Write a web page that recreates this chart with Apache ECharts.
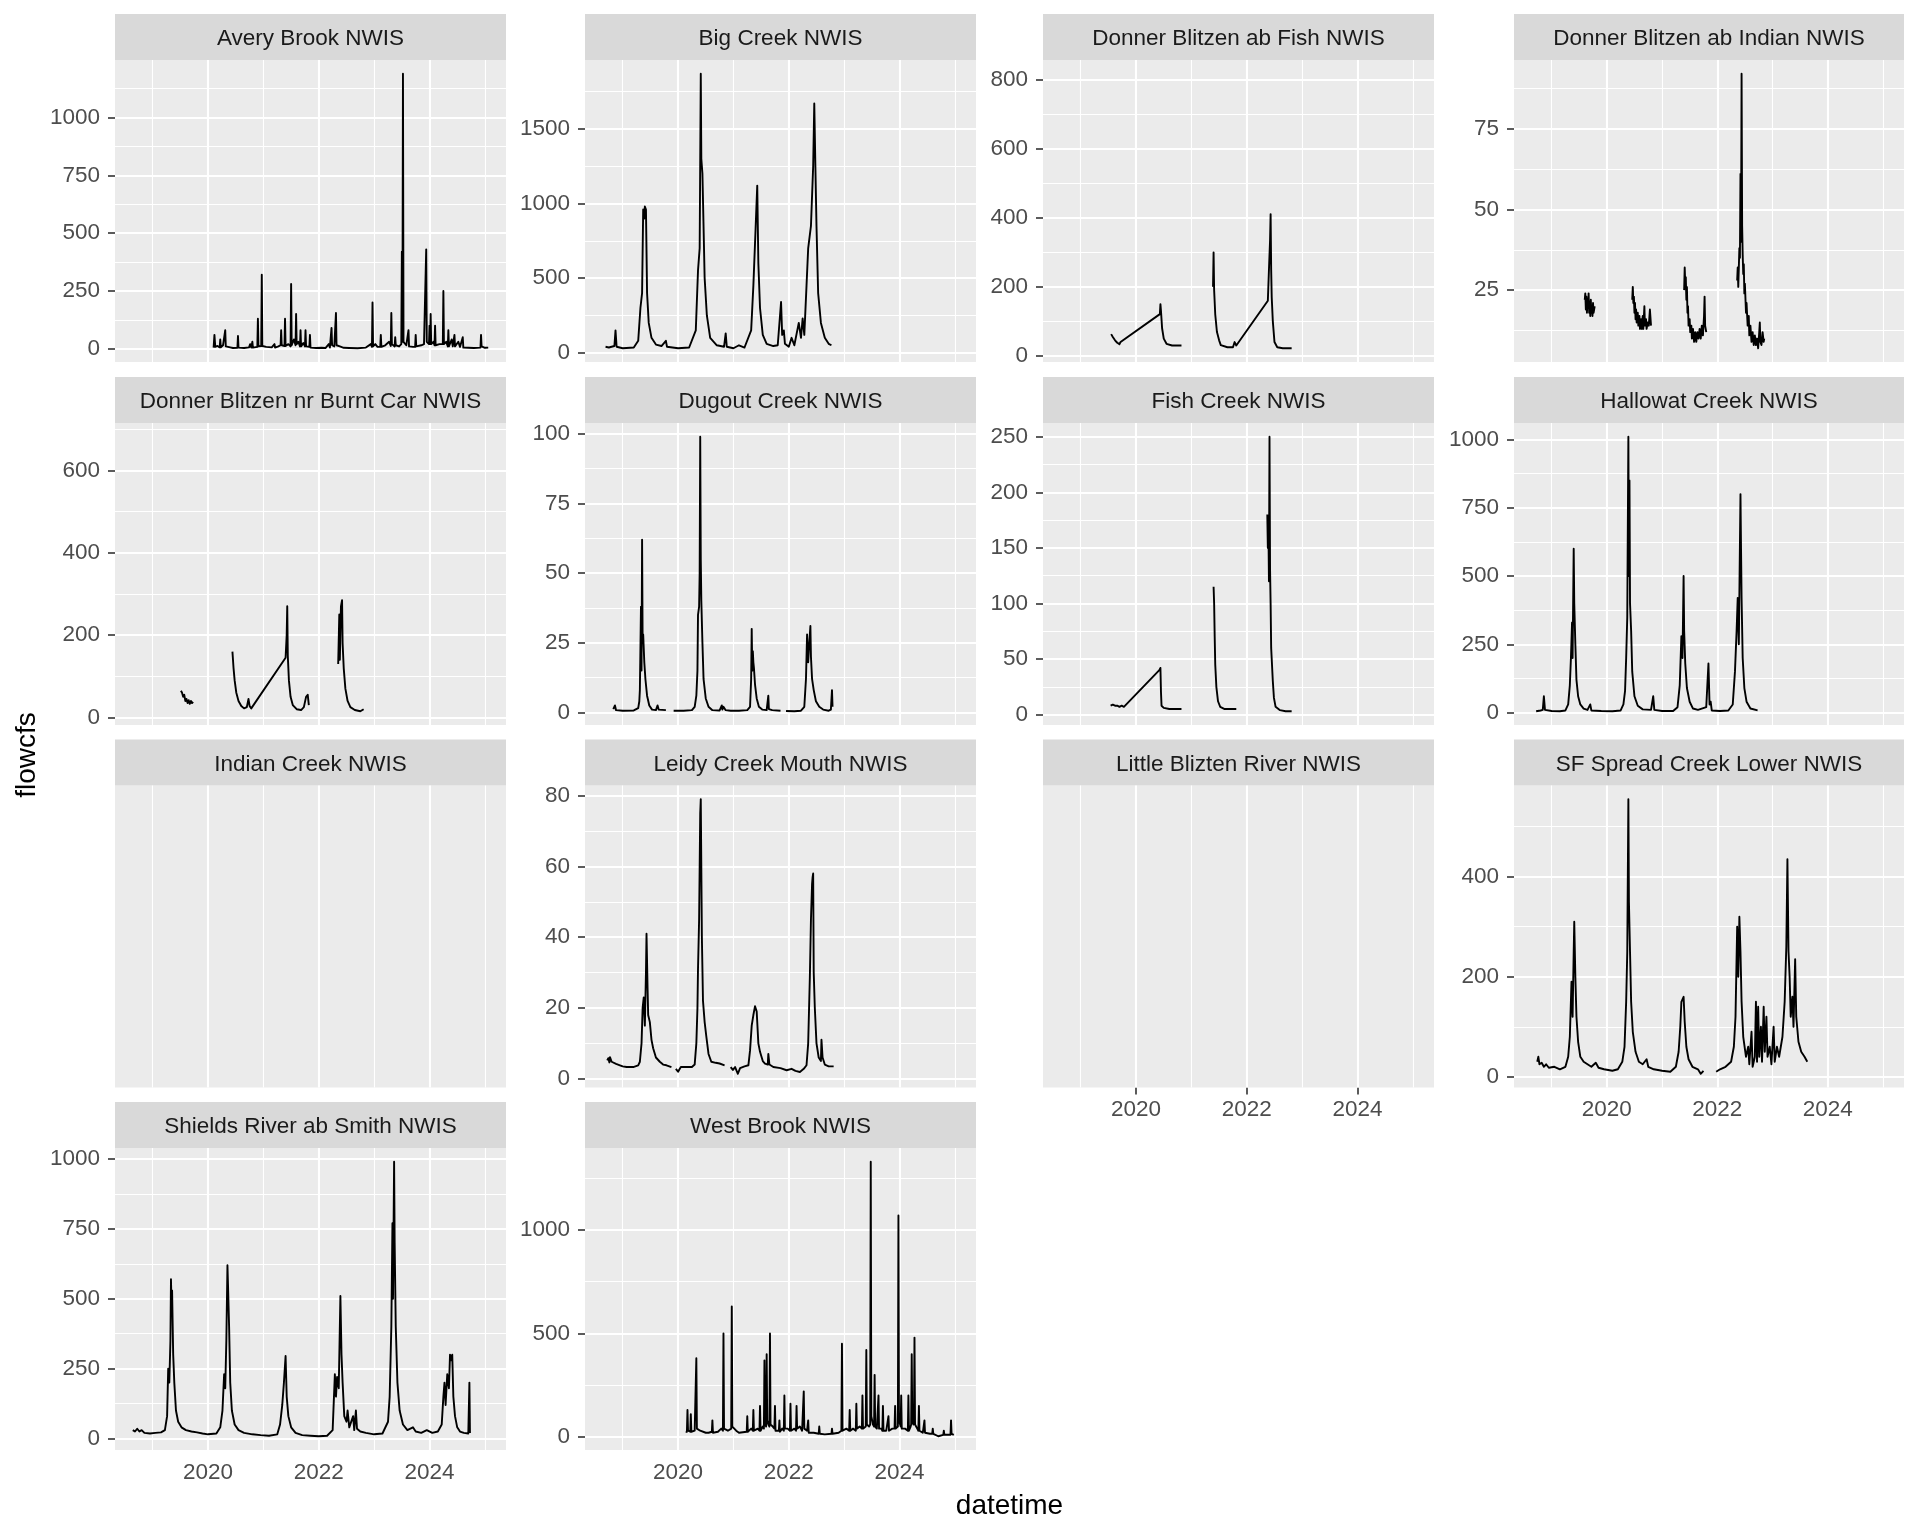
<!DOCTYPE html>
<html><head><meta charset="utf-8">
<script src="https://cdn.jsdelivr.net/npm/echarts@6/dist/echarts.min.js"></script>
<style>html,body{margin:0;padding:0;background:#fff}#chart{width:1920px;height:1536px}</style>
</head><body><div id="chart"></div>
<script>
// ---- Data (x = decimal year, y = flow cfs; null = gap in record) ----
const panelNames = ['Avery Brook NWIS','Big Creek NWIS','Donner Blitzen ab Fish NWIS','Donner Blitzen ab Indian NWIS',
  'Donner Blitzen nr Burnt Car NWIS','Dugout Creek NWIS','Fish Creek NWIS','Hallowat Creek NWIS',
  'Indian Creek NWIS','Leidy Creek Mouth NWIS','Little Blizten River NWIS','SF Spread Creek Lower NWIS',
  'Shields River ab Smith NWIS','West Brook NWIS'];

const averyBrook = [[2020.10,5],[2020.115,60],[2020.13,8],[2020.17,12],[2020.21,6],[2020.22,40],[2020.23,6],[2020.27,15],[2020.30,8],[2020.31,80],[2020.32,10],[2020.40,6],[2020.45,3],[2020.53,4],[2020.54,55],[2020.55,5],[2020.65,3],[2020.74,6],[2020.76,20],[2020.78,5],[2020.80,30],[2020.81,5],[2020.89,8],[2020.90,130],[2020.91,10],[2020.96,12],[2020.97,320],[2020.98,12],[2021.05,8],[2021.15,6],[2021.20,20],[2021.21,5],[2021.27,10],[2021.31,15],[2021.32,80],[2021.33,15],[2021.38,12],[2021.39,130],[2021.40,12],[2021.45,20],[2021.49,10],[2021.50,280],[2021.51,15],[2021.55,40],[2021.58,15],[2021.59,150],[2021.60,20],[2021.63,30],[2021.66,10],[2021.67,80],[2021.68,10],[2021.72,25],[2021.75,10],[2021.76,80],[2021.77,10],[2021.83,8],[2021.84,60],[2021.85,5],[2021.95,3],[2022.05,4],[2022.12,3],[2022.18,20],[2022.20,5],[2022.22,8],[2022.23,90],[2022.24,15],[2022.28,10],[2022.30,15],[2022.31,155],[2022.32,15],[2022.38,10],[2022.45,4],[2022.55,3],[2022.70,2],[2022.85,5],[2022.94,20],[2022.96,8],[2022.97,200],[2022.98,10],[2023.02,20],[2023.06,8],[2023.11,8],[2023.12,60],[2023.13,8],[2023.20,15],[2023.27,30],[2023.30,12],[2023.31,155],[2023.32,20],[2023.37,10],[2023.38,50],[2023.39,15],[2023.45,10],[2023.49,20],[2023.50,420],[2023.51,30],[2023.52,1190],[2023.53,30],[2023.58,15],[2023.61,10],[2023.62,80],[2023.63,10],[2023.70,8],[2023.74,8],[2023.75,60],[2023.76,10],[2023.85,15],[2023.90,20],[2023.93,25],[2023.94,430],[2023.95,30],[2023.99,20],[2024.00,100],[2024.01,20],[2024.02,150],[2024.03,20],[2024.07,30],[2024.09,15],[2024.10,100],[2024.11,15],[2024.18,20],[2024.24,20],[2024.25,250],[2024.26,20],[2024.30,30],[2024.33,10],[2024.34,80],[2024.35,10],[2024.40,40],[2024.42,10],[2024.45,60],[2024.46,10],[2024.52,30],[2024.55,8],[2024.60,50],[2024.61,5],[2024.70,4],[2024.80,3],[2024.92,5],[2024.93,60],[2024.94,10],[2025.00,4],[2025.06,5]];

const bigCreek = [[2018.69,40],[2018.75,35],[2018.85,45],[2018.87,150],[2018.89,40],[2019.00,30],[2019.20,35],[2019.28,80],[2019.32,300],[2019.35,400],[2019.37,960],[2019.39,900],[2019.40,980],[2019.42,960],[2019.44,400],[2019.47,200],[2019.52,100],[2019.60,55],[2019.70,45],[2019.78,80],[2019.80,40],[2020.00,30],[2020.20,35],[2020.32,150],[2020.36,550],[2020.39,700],[2020.41,1870],[2020.42,1300],[2020.44,1200],[2020.46,850],[2020.48,500],[2020.52,250],[2020.58,100],[2020.70,50],[2020.83,40],[2020.86,130],[2020.88,40],[2021.00,30],[2021.10,50],[2021.20,35],[2021.32,150],[2021.36,450],[2021.40,830],[2021.43,1120],[2021.45,600],[2021.48,300],[2021.53,120],[2021.60,60],[2021.72,45],[2021.80,50],[2021.86,340],[2021.88,120],[2021.91,150],[2021.93,60],[2022.00,40],[2022.05,100],[2022.10,50],[2022.18,200],[2022.22,100],[2022.25,230],[2022.28,120],[2022.32,450],[2022.35,700],[2022.40,850],[2022.44,1250],[2022.46,1670],[2022.48,1250],[2022.50,850],[2022.53,400],[2022.58,200],[2022.65,100],[2022.72,60],[2022.77,50]];

const dbAbFish = [[2019.55,63],[2019.58,55],[2019.62,45],[2019.66,38],[2019.70,34],[2019.72,40],[2020.43,121],[2020.44,150],[2020.45,130],[2020.47,80],[2020.50,50],[2020.55,35],[2020.65,30],[2020.82,30],null,[2021.39,200],[2021.40,300],[2021.41,190],[2021.43,120],[2021.46,70],[2021.50,45],[2021.53,31],[2021.65,25],[2021.75,25],[2021.78,40],[2021.81,30],[2022.38,160],[2022.40,250],[2022.42,335],[2022.43,411],[2022.44,250],[2022.45,170],[2022.47,100],[2022.50,40],[2022.55,25],[2022.65,22],[2022.81,22]];

const dbAbIndian = [[2019.60,22],[2019.61,24],[2019.62,19],[2019.63,23],[2019.64,18],[2019.65,22],[2019.66,20],[2019.67,24],[2019.68,18],[2019.69,21],[2019.70,17],[2019.71,22],[2019.72,18],[2019.73,20],[2019.74,17],[2019.75,21],[2019.76,18],[2019.77,19],[2019.78,20],null,
 [2020.46,22],[2020.47,26],[2020.48,21],[2020.49,23],[2020.50,18],[2020.51,21],[2020.52,16],[2020.53,19],[2020.54,15],[2020.56,18],[2020.57,14],[2020.59,17],[2020.60,13],[2020.62,16],[2020.63,13],[2020.65,17],[2020.66,13],[2020.68,20],[2020.69,14],[2020.71,16],[2020.72,13],[2020.74,15],[2020.76,14],[2020.78,19],[2020.80,14],null,
 [2021.40,25],[2021.41,32],[2021.42,27],[2021.43,29],[2021.44,22],[2021.45,26],[2021.46,18],[2021.47,20],[2021.48,14],[2021.50,16],[2021.51,12],[2021.53,14],[2021.54,10],[2021.56,13],[2021.58,9],[2021.60,12],[2021.62,9],[2021.64,12],[2021.66,10],[2021.68,13],[2021.70,10],[2021.72,14],[2021.74,11],[2021.76,17],[2021.77,23],[2021.78,14],[2021.80,12],null,
 [2022.36,28],[2022.37,32],[2022.38,26],[2022.40,38],[2022.41,35],[2022.42,61],[2022.43,40],[2022.44,92],[2022.45,45],[2022.46,36],[2022.47,30],[2022.48,33],[2022.49,24],[2022.50,27],[2022.52,18],[2022.53,21],[2022.55,14],[2022.57,17],[2022.58,11],[2022.60,14],[2022.62,9],[2022.64,12],[2022.66,8],[2022.68,11],[2022.70,8],[2022.72,10],[2022.74,7],[2022.76,12],[2022.77,15],[2022.78,9],[2022.80,8],[2022.82,12],[2022.84,9],[2022.85,10]];

const dbBurntCar = [[2019.51,65],[2019.53,60],[2019.55,50],[2019.57,55],[2019.59,40],[2019.61,45],[2019.63,35],[2019.65,42],[2019.67,33],[2019.69,40],[2019.71,35],[2019.73,38],null,
 [2020.44,160],[2020.46,120],[2020.48,90],[2020.51,60],[2020.55,40],[2020.60,28],[2020.65,22],[2020.70,25],[2020.73,45],[2020.75,28],[2020.78,22],[2021.40,145],[2021.42,200],[2021.43,270],[2021.44,150],[2021.46,90],[2021.49,50],[2021.53,30],[2021.60,20],[2021.68,18],[2021.73,25],[2021.77,50],[2021.80,55],[2021.82,30],null,
 [2022.35,130],[2022.37,250],[2022.38,140],[2022.40,270],[2022.42,285],[2022.43,180],[2022.45,120],[2022.48,70],[2022.52,40],[2022.57,25],[2022.65,18],[2022.75,15],[2022.81,20]];

const dugoutCreek = [[2018.83,1.2],[2018.86,2.5],[2018.88,0.8],[2019.00,0.6],[2019.20,0.7],[2019.28,1.5],[2019.30,4],[2019.31,8],[2019.33,38],[2019.34,15],[2019.35,62],[2019.36,25],[2019.37,28],[2019.39,18],[2019.41,12],[2019.44,6],[2019.48,2.5],[2019.53,1],[2019.60,0.8],[2019.63,2.5],[2019.65,1],[2019.68,1.5],[2019.78,0.8],null,
 [2019.92,0.6],[2020.10,0.6],[2020.25,0.8],[2020.30,2],[2020.33,6],[2020.35,15],[2020.36,35],[2020.38,38],[2020.39,50],[2020.40,99],[2020.41,55],[2020.42,40],[2020.44,25],[2020.46,12],[2020.50,5],[2020.55,2],[2020.62,0.8],[2020.75,0.7],[2020.79,2.5],[2020.80,1],[2020.82,2],[2020.86,0.8],[2020.95,0.6],[2021.10,0.6],[2021.25,0.8],[2021.30,2],[2021.32,12],[2021.33,30],[2021.34,15],[2021.35,22],[2021.36,18],[2021.37,16],[2021.39,10],[2021.42,5],[2021.46,2],[2021.52,1],[2021.60,0.8],[2021.63,6],[2021.64,1.2],[2021.70,0.8],[2021.85,0.6],null,
 [2021.95,0.5],[2022.10,0.4],[2022.22,0.6],[2022.28,2],[2022.31,12],[2022.33,28],[2022.35,18],[2022.37,25],[2022.39,31],[2022.40,20],[2022.42,12],[2022.45,8],[2022.49,4],[2022.55,2],[2022.62,1],[2022.72,0.6],[2022.76,1],[2022.78,8],[2022.79,2]];

const fishCreek = [[2019.54,8],[2019.58,9],[2019.62,8],[2019.66,8],[2019.70,7],[2019.74,8],[2019.78,7],[2020.42,40],[2020.44,42],[2020.45,20],[2020.46,8],[2020.50,6],[2020.60,5],[2020.70,5],[2020.82,5],null,
 [2021.40,115],[2021.41,100],[2021.42,70],[2021.43,45],[2021.45,25],[2021.48,12],[2021.52,7],[2021.60,5],[2021.70,5],[2021.81,5],null,
 [2022.37,180],[2022.38,150],[2022.39,170],[2022.40,120],[2022.41,250],[2022.42,130],[2022.43,100],[2022.44,60],[2022.45,50],[2022.47,30],[2022.49,15],[2022.52,7],[2022.60,4],[2022.70,3],[2022.81,3]];

const hallowatCreek = [[2018.72,5],[2018.80,8],[2018.84,10],[2018.86,60],[2018.88,10],[2019.00,6],[2019.15,5],[2019.25,8],[2019.30,30],[2019.33,100],[2019.35,200],[2019.37,330],[2019.38,200],[2019.40,600],[2019.41,400],[2019.43,250],[2019.45,120],[2019.48,60],[2019.52,30],[2019.58,15],[2019.65,10],[2019.70,30],[2019.72,8],[2019.90,6],[2020.10,5],[2020.25,8],[2020.30,30],[2020.33,80],[2020.35,200],[2020.37,350],[2020.39,1010],[2020.40,500],[2020.41,850],[2020.42,400],[2020.44,300],[2020.46,150],[2020.50,60],[2020.56,25],[2020.65,12],[2020.80,10],[2020.84,60],[2020.86,10],[2021.00,6],[2021.20,6],[2021.28,20],[2021.32,100],[2021.35,280],[2021.37,200],[2021.39,500],[2021.40,300],[2021.42,180],[2021.45,90],[2021.50,40],[2021.56,15],[2021.65,10],[2021.80,20],[2021.84,180],[2021.86,30],[2021.88,40],[2021.90,8],[2022.05,6],[2022.20,8],[2022.28,30],[2022.32,150],[2022.35,300],[2022.37,420],[2022.39,250],[2022.42,800],[2022.43,600],[2022.44,420],[2022.46,200],[2022.49,90],[2022.53,40],[2022.60,15],[2022.73,8]];

const indianCreek = [];

const leidyCreek = [[2018.72,5.2],[2018.74,5.8],[2018.76,4.6],[2018.77,6.1],[2018.80,4.8],[2018.83,4.5],[2018.88,4.2],[2018.95,3.8],[2019.00,3.5],[2019.07,3.3],[2019.19,3.3],[2019.28,3.8],[2019.31,4.8],[2019.34,10],[2019.36,20],[2019.38,23],[2019.40,15],[2019.42,30],[2019.43,41],[2019.45,25],[2019.46,18],[2019.49,16],[2019.52,11],[2019.55,8.6],[2019.60,6],[2019.67,4.8],[2019.73,4],[2019.79,3.8],[2019.88,3.3],null,
 [2019.96,2.8],[2020.00,2.0],[2020.05,3.3],[2020.15,3.3],[2020.25,3.3],[2020.30,4],[2020.33,10],[2020.35,20],[2020.36,31],[2020.38,45],[2020.40,75],[2020.41,79],[2020.43,40],[2020.45,22],[2020.48,16],[2020.51,12],[2020.55,7],[2020.60,4.8],[2020.68,4.5],[2020.75,4.3],[2020.84,3.8],null,
 [2020.95,3.3],[2020.99,2.5],[2021.03,3.3],[2021.08,1.4],[2021.12,3],[2021.20,3.5],[2021.27,3.8],[2021.30,8],[2021.33,15],[2021.36,18],[2021.39,20.5],[2021.42,19],[2021.45,10],[2021.48,7.6],[2021.53,5],[2021.57,4.3],[2021.62,4],[2021.63,7],[2021.65,4],[2021.72,3.3],[2021.85,3],[2021.96,2.4],[2022.05,2.8],[2022.12,2.2],[2022.20,1.9],[2022.27,2.8],[2022.32,3.8],[2022.35,10],[2022.38,28.6],[2022.40,45],[2022.42,55],[2022.43,57],[2022.44,58],[2022.45,30],[2022.47,20],[2022.50,10],[2022.54,6],[2022.58,5],[2022.59,11],[2022.61,6],[2022.65,4],[2022.72,3.5],[2022.81,3.5]];

const littleBlizten = [];

const sfSpread = [[2018.74,30],[2018.76,40],[2018.78,25],[2018.82,28],[2018.86,20],[2018.90,25],[2018.95,18],[2019.05,20],[2019.15,15],[2019.25,20],[2019.30,40],[2019.33,80],[2019.36,190],[2019.38,120],[2019.40,250],[2019.41,310],[2019.43,200],[2019.45,120],[2019.48,70],[2019.52,40],[2019.58,30],[2019.65,25],[2019.72,20],[2019.80,28],[2019.85,18],[2019.95,15],[2020.10,12],[2020.20,15],[2020.28,30],[2020.32,60],[2020.35,150],[2020.37,250],[2020.39,555],[2020.40,350],[2020.42,250],[2020.44,150],[2020.47,90],[2020.52,50],[2020.58,30],[2020.65,25],[2020.72,35],[2020.75,20],[2020.85,15],[2021.00,12],[2021.15,10],[2021.25,20],[2021.30,50],[2021.33,100],[2021.35,150],[2021.37,155],[2021.39,160],[2021.41,110],[2021.44,60],[2021.48,35],[2021.55,20],[2021.65,15],[2021.70,6],[2021.75,12],null,
 [2021.98,10],[2022.05,15],[2022.15,20],[2022.25,30],[2022.30,60],[2022.33,120],[2022.36,300],[2022.38,200],[2022.40,320],[2022.42,250],[2022.44,150],[2022.47,80],[2022.52,40],[2022.56,60],[2022.58,25],[2022.62,90],[2022.64,20],[2022.68,40],[2022.70,150],[2022.72,30],[2022.74,140],[2022.76,40],[2022.79,100],[2022.81,30],[2022.84,140],[2022.86,50],[2022.89,120],[2022.91,40],[2022.95,60],[2022.98,25],[2023.02,100],[2023.04,30],[2023.08,60],[2023.12,40],[2023.18,80],[2023.22,150],[2023.25,260],[2023.27,435],[2023.29,250],[2023.31,200],[2023.33,120],[2023.36,160],[2023.38,100],[2023.41,235],[2023.43,120],[2023.47,70],[2023.52,50],[2023.58,40],[2023.63,30]];

const shieldsRiver = [[2018.64,30],[2018.68,25],[2018.72,35],[2018.76,25],[2018.80,30],[2018.85,20],[2018.95,18],[2019.05,20],[2019.15,22],[2019.22,30],[2019.26,80],[2019.28,250],[2019.30,200],[2019.32,350],[2019.33,570],[2019.34,480],[2019.35,530],[2019.37,300],[2019.39,200],[2019.42,100],[2019.46,60],[2019.52,40],[2019.60,30],[2019.70,25],[2019.80,22],[2019.90,18],[2020.00,15],[2020.15,18],[2020.22,40],[2020.26,100],[2020.29,230],[2020.31,180],[2020.33,350],[2020.35,620],[2020.36,550],[2020.38,400],[2020.40,200],[2020.43,100],[2020.48,50],[2020.55,30],[2020.65,20],[2020.80,15],[2020.95,12],[2021.10,10],[2021.25,15],[2021.30,50],[2021.34,120],[2021.37,200],[2021.40,295],[2021.42,150],[2021.45,80],[2021.50,40],[2021.58,20],[2021.70,12],[2021.85,10],[2022.00,8],[2022.15,10],[2022.25,30],[2022.29,230],[2022.31,150],[2022.33,220],[2022.36,180],[2022.39,510],[2022.41,300],[2022.43,200],[2022.46,80],[2022.50,60],[2022.52,100],[2022.55,40],[2022.62,80],[2022.64,30],[2022.67,100],[2022.69,35],[2022.75,25],[2022.85,20],[2023.00,15],[2023.15,18],[2023.25,60],[2023.28,150],[2023.31,400],[2023.33,770],[2023.34,500],[2023.36,990],[2023.37,700],[2023.39,400],[2023.42,200],[2023.46,100],[2023.52,50],[2023.60,30],[2023.70,40],[2023.75,25],[2023.85,20],[2023.95,30],[2024.05,20],[2024.15,25],[2024.22,50],[2024.25,150],[2024.27,200],[2024.29,120],[2024.32,230],[2024.35,180],[2024.37,300],[2024.39,280],[2024.41,300],[2024.43,150],[2024.46,80],[2024.50,40],[2024.55,25],[2024.62,20],[2024.70,18],[2024.72,200],[2024.73,20]];

const westBrook = [[2020.15,20],[2020.16,30],[2020.17,130],[2020.18,30],[2020.22,25],[2020.23,110],[2020.24,25],[2020.30,30],[2020.32,25],[2020.33,380],[2020.34,40],[2020.40,30],[2020.50,20],[2020.55,20],[2020.61,25],[2020.62,80],[2020.63,20],[2020.72,25],[2020.78,40],[2020.81,30],[2020.82,500],[2020.83,40],[2020.90,30],[2020.96,40],[2020.97,630],[2020.98,50],[2021.05,30],[2021.10,20],[2021.24,25],[2021.25,100],[2021.26,25],[2021.32,40],[2021.35,30],[2021.36,130],[2021.37,30],[2021.44,40],[2021.47,30],[2021.48,150],[2021.49,30],[2021.53,50],[2021.55,40],[2021.56,370],[2021.57,60],[2021.59,50],[2021.60,400],[2021.61,80],[2021.63,60],[2021.65,50],[2021.66,500],[2021.67,60],[2021.71,50],[2021.74,40],[2021.75,150],[2021.76,30],[2021.82,30],[2021.83,80],[2021.84,25],[2021.88,40],[2021.91,30],[2021.92,200],[2021.93,40],[2021.98,40],[2022.02,30],[2022.03,160],[2022.04,30],[2022.10,40],[2022.13,30],[2022.14,150],[2022.15,40],[2022.20,50],[2022.24,30],[2022.27,220],[2022.28,40],[2022.33,30],[2022.35,80],[2022.36,20],[2022.45,20],[2022.54,15],[2022.55,50],[2022.56,15],[2022.65,12],[2022.77,15],[2022.78,40],[2022.79,15],[2022.90,20],[2022.95,30],[2022.96,450],[2022.97,30],[2023.04,40],[2023.09,30],[2023.10,130],[2023.11,30],[2023.16,40],[2023.21,30],[2023.22,160],[2023.23,40],[2023.28,50],[2023.32,40],[2023.33,200],[2023.34,40],[2023.39,50],[2023.40,420],[2023.41,60],[2023.45,50],[2023.47,60],[2023.48,1330],[2023.49,100],[2023.52,60],[2023.54,50],[2023.55,300],[2023.56,50],[2023.59,40],[2023.61,40],[2023.62,200],[2023.63,40],[2023.67,40],[2023.69,30],[2023.70,150],[2023.71,30],[2023.76,30],[2023.79,30],[2023.80,100],[2023.81,30],[2023.87,40],[2023.91,40],[2023.92,150],[2023.93,40],[2023.97,50],[2023.98,1070],[2023.99,80],[2024.02,50],[2024.03,200],[2024.04,40],[2024.10,40],[2024.15,30],[2024.16,200],[2024.17,30],[2024.20,50],[2024.21,60],[2024.22,400],[2024.23,80],[2024.25,60],[2024.26,70],[2024.27,480],[2024.28,60],[2024.32,40],[2024.34,30],[2024.35,150],[2024.36,30],[2024.42,20],[2024.44,20],[2024.45,80],[2024.46,20],[2024.55,15],[2024.59,15],[2024.60,40],[2024.61,15],[2024.70,3],[2024.79,10],[2024.80,30],[2024.81,10],[2024.88,10],[2024.92,10],[2024.93,80],[2024.94,15],[2024.98,10]];

// isolated readings (single points between gaps, not drawn as lines) that still set the panel scale
const isolatedPeaks = [null,null,818,null,682,null,null,null,null,null,null,null,null,null];

// tick labels
const yBreaks = [[0,250,500,750,1000],[0,500,1000,1500],[0,200,400,600,800],[25,50,75],
  [0,200,400,600],[0,25,50,75,100],[0,50,100,150,200,250],[0,250,500,750,1000],
  [],[0,20,40,60,80],[],[0,200,400],[0,250,500,750,1000],[0,500,1000]];
const xMajorYears = [2020,2022,2024];
const xMinorYears = [2019,2021,2023,2025];

const panelSeries = [averyBrook,bigCreek,dbAbFish,dbAbIndian,dbBurntCar,dugoutCreek,fishCreek,hallowatCreek,
  indianCreek,leidyCreek,littleBlizten,sfSpread,shieldsRiver,westBrook];

// ---- layout ----
const FONT = '"Liberation Sans", Arial, sans-serif';
const colLeft = [115,585,1043,1514];
const colWidth = [391,391,391,390];
const stripTop = [14,377,739.5,1102];
const stripH = 46, panelH = 302;
const xLabelPanels = [10,11,12,13];

function expand(lo, hi){ const d = hi - lo; return [lo - 0.05*d, hi + 0.05*d]; }

let allX = [];
panelSeries.forEach(s => s.forEach(p => { if (p) allX.push(p[0]); }));
const [xMin, xMax] = expand(Math.min(...allX), Math.max(...allX));

const grids=[], xAxes=[], yAxes=[], series=[], graphics=[];
panelSeries.forEach((data, i) => {
  const col = i % 4, row = Math.floor(i / 4);
  const left = colLeft[col], width = colWidth[col], top = stripTop[row] + stripH;
  grids.push({left, top, width, height: panelH, show:true, backgroundColor:'#EBEBEB', borderWidth:0, containLabel:false, outerBoundsMode:'none'});
  const hasData = data.length > 0;
  const showX = xLabelPanels.includes(i);
  let yMin = 0, yMax = 1;
  if (hasData) {
    const ys = data.filter(p => p).map(p => p[1]);
    if (isolatedPeaks[i] != null) ys.push(isolatedPeaks[i]);
    [yMin, yMax] = expand(Math.min(...ys), Math.max(...ys));
  }
  xAxes.push({type:'value', gridIndex:i, min:xMin, max:xMax,
    axisLine:{show:false}, splitLine:{show:false},
    axisTick:{show:showX, length:7, customValues:xMajorYears, lineStyle:{color:'#333333', width:1.6}},
    axisLabel:{show:showX, customValues:xMajorYears, margin:11, color:'#4D4D4D', fontSize:22.5, fontFamily:FONT, formatter: v => String(v)}});
  const br = yBreaks[i];
  yAxes.push({type:'value', gridIndex:i, min:yMin, max:yMax,
    axisLine:{show:false}, splitLine:{show:false},
    axisTick:{show:hasData, length:7, customValues:br, lineStyle:{color:'#333333', width:1.6}},
    axisLabel:{show:hasData, customValues:br, margin:15, color:'#4D4D4D', fontSize:22.5, fontFamily:FONT, formatter: v => String(v)}});
  // grid lines (ggplot style: major + minor)
  const gl = [];
  xMinorYears.forEach(v => { if (v > xMin && v < xMax) gl.push({xAxis:v, lineStyle:{width:1.1}}); });
  xMajorYears.forEach(v => gl.push({xAxis:v, lineStyle:{width:2.1}}));
  if (hasData && br.length > 1) {
    const step = br[1] - br[0];
    for (let v = br[0] - step/2; v <= br[br.length-1] + step; v += step) {
      if (v > yMin && v < yMax) gl.push({yAxis:v, lineStyle:{width:1.1}});
    }
    br.forEach(v => gl.push({yAxis:v, lineStyle:{width:2.1}}));
  }
  series.push({type:'line', xAxisIndex:i, yAxisIndex:i, data:[], silent:true, animation:false, z:1,
    markLine:{silent:true, symbol:['none','none'], animation:false, label:{show:false},
      lineStyle:{color:'#FFFFFF', type:'solid'}, emphasis:{disabled:true}, data:gl}});
  if (hasData) {
    let prev = null;
    const pts = data.map(p => { if (p) { prev = p[0]; return p; } return [prev, null]; });
    series.push({type:'line', xAxisIndex:i, yAxisIndex:i, data:pts, showSymbol:false, symbol:'none',
      connectNulls:false, silent:true, animation:false, z:10,
      lineStyle:{color:'#000000', width:1.9, join:'round'}});
  }
  // facet strip
  graphics.push({type:'rect', shape:{x:left, y:stripTop[row], width, height:stripH}, style:{fill:'#D9D9D9'}, silent:true});
  graphics.push({type:'text', x:left + width/2, y:stripTop[row] + stripH/2 + 2,
    style:{text:panelNames[i], fill:'#1A1A1A', font:'22.5px ' + FONT, align:'center', verticalAlign:'middle', textAlign:'center', textVerticalAlign:'middle'}, silent:true});
});
graphics.push({type:'text', x:1009.5, y:1506, style:{text:'datetime', fill:'#000000', font:'28px ' + FONT, align:'center', verticalAlign:'middle', textAlign:'center', textVerticalAlign:'middle'}});
graphics.push({type:'text', x:27, y:755, rotation:Math.PI/2, style:{text:'flowcfs', fill:'#000000', font:'28px ' + FONT, align:'center', verticalAlign:'middle', textAlign:'center', textVerticalAlign:'middle'}});

const chart = echarts.init(document.getElementById('chart'), null, {renderer:'canvas', width:1920, height:1536});
chart.setOption({backgroundColor:'#FFFFFF', animation:false, grid:grids, xAxis:xAxes, yAxis:yAxes, series, graphic:graphics});
</script></body></html>
